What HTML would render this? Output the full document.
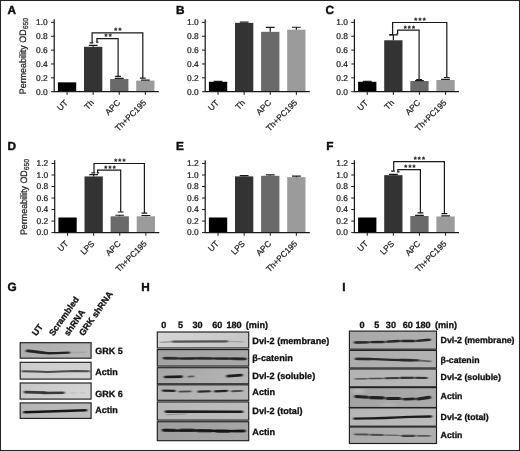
<!DOCTYPE html>
<html lang="en"><head><meta charset="utf-8"><title>Figure</title>
<style>html,body{margin:0;padding:0;background:#fff}body{width:520px;height:451px;overflow:hidden}svg{display:block;will-change:transform}text{font-family:"Liberation Sans", Arial, Helvetica, sans-serif}.r text{stroke:#1a1a1a;stroke-width:.22px}.b text{stroke:#111;stroke-width:.3px}</style></head><body>
<svg width="520" height="451" viewBox="0 0 520 451" text-rendering="geometricPrecision">
<defs><filter id="b1" filterUnits="userSpaceOnUse" x="0" y="320" width="520" height="131"><feGaussianBlur stdDeviation="1.1 0.72"/></filter><filter id="b2" filterUnits="userSpaceOnUse" x="0" y="320" width="520" height="131"><feGaussianBlur stdDeviation="2.2 1.2"/></filter></defs>
<rect x="0" y="0" width="520" height="451" fill="#fff"/>
<rect x="0.5" y="0.5" width="519" height="450" fill="none" stroke="#242424" stroke-width="1.05"/>
<text x="7.5" y="14.4" font-size="11.8" font-weight="bold" fill="#0c0c0c" stroke="#0c0c0c" stroke-width=".4">A</text>
<text x="176.0" y="14.4" font-size="11.8" font-weight="bold" fill="#0c0c0c" stroke="#0c0c0c" stroke-width=".4">B</text>
<text x="325.6" y="14.4" font-size="11.8" font-weight="bold" fill="#0c0c0c" stroke="#0c0c0c" stroke-width=".4">C</text>
<text x="7.6" y="149.6" font-size="11.8" font-weight="bold" fill="#0c0c0c" stroke="#0c0c0c" stroke-width=".4">D</text>
<text x="176.0" y="149.6" font-size="11.8" font-weight="bold" fill="#0c0c0c" stroke="#0c0c0c" stroke-width=".4">E</text>
<text x="326.3" y="149.6" font-size="11.8" font-weight="bold" fill="#0c0c0c" stroke="#0c0c0c" stroke-width=".4">F</text>
<text x="7.4" y="291.3" font-size="11.8" font-weight="bold" fill="#0c0c0c" stroke="#0c0c0c" stroke-width=".4">G</text>
<text x="141.2" y="291.3" font-size="11.8" font-weight="bold" fill="#0c0c0c" stroke="#0c0c0c" stroke-width=".4">H</text>
<text x="342.2" y="291.3" font-size="11.8" font-weight="bold" fill="#0c0c0c" stroke="#0c0c0c" stroke-width=".4">I</text>
<g class="r"><rect x="57.90" y="82.34" width="18.3" height="9.36" fill="#000000"/>
<rect x="84.00" y="46.79" width="18.3" height="44.91" fill="#333333"/>
<path d="M93.15 46.79V45.48M88.75 45.48H97.55" stroke="#1a1a1a" stroke-width="1.22" fill="none"/>
<rect x="110.10" y="79.02" width="18.3" height="12.68" fill="#6a6a6a"/>
<path d="M119.25 79.02V78.46M114.85 78.46H123.65" stroke="#1a1a1a" stroke-width="1.22" fill="none"/>
<rect x="136.20" y="80.61" width="18.3" height="11.09" fill="#9b9b9b"/>
<path d="M145.35 80.61V80.20M140.95 80.20H149.75" stroke="#1a1a1a" stroke-width="1.22" fill="none"/>
<path d="M54.2 19.3V91.7H158.8" stroke="#1a1a1a" stroke-width="1.22" fill="none"/>
<path d="M51.00 91.70H54.2" stroke="#1a1a1a" stroke-width="1"/>
<text x="47.90" y="94.55" font-size="8.4" letter-spacing="0.1" text-anchor="end" fill="#1a1a1a">0.0</text>
<path d="M51.00 77.84H54.2" stroke="#1a1a1a" stroke-width="1"/>
<text x="47.90" y="80.69" font-size="8.4" letter-spacing="0.1" text-anchor="end" fill="#1a1a1a">0.2</text>
<path d="M51.00 63.98H54.2" stroke="#1a1a1a" stroke-width="1"/>
<text x="47.90" y="66.83" font-size="8.4" letter-spacing="0.1" text-anchor="end" fill="#1a1a1a">0.4</text>
<path d="M51.00 50.12H54.2" stroke="#1a1a1a" stroke-width="1"/>
<text x="47.90" y="52.97" font-size="8.4" letter-spacing="0.1" text-anchor="end" fill="#1a1a1a">0.6</text>
<path d="M51.00 36.26H54.2" stroke="#1a1a1a" stroke-width="1"/>
<text x="47.90" y="39.11" font-size="8.4" letter-spacing="0.1" text-anchor="end" fill="#1a1a1a">0.8</text>
<path d="M51.00 22.40H54.2" stroke="#1a1a1a" stroke-width="1"/>
<text x="47.90" y="25.25" font-size="8.4" letter-spacing="0.1" text-anchor="end" fill="#1a1a1a">1.0</text>
<path d="M67.05 91.7V94.9" stroke="#1a1a1a" stroke-width="1"/>
<text transform="translate(68.45 103.30) rotate(-45)" font-size="8.35" text-anchor="end" fill="#1a1a1a">UT</text>
<path d="M93.15 91.7V94.9" stroke="#1a1a1a" stroke-width="1"/>
<text transform="translate(94.55 103.30) rotate(-45)" font-size="8.35" text-anchor="end" fill="#1a1a1a">Th</text>
<path d="M119.25 91.7V94.9" stroke="#1a1a1a" stroke-width="1"/>
<text transform="translate(120.65 103.30) rotate(-45)" font-size="8.35" text-anchor="end" fill="#1a1a1a">APC</text>
<path d="M145.35 91.7V94.9" stroke="#1a1a1a" stroke-width="1"/>
<text transform="translate(146.75 103.30) rotate(-45)" font-size="8.35" text-anchor="end" fill="#1a1a1a">Th+PC195</text>
<text transform="translate(26.10 94.20) rotate(-90) scale(0.95 1)" font-size="9.4" fill="#1a1a1a">Permeability OD<tspan font-size="7.2" dy="2.3">650</tspan></text>
<path d="M89.5 42.9H93.3M92.1 43.4V32.8H142.8V78.1M139.9 78.1H145.70000000000002" stroke="#1a1a1a" stroke-width="1.22" fill="none"/>
<text x="118.40" y="32.83" font-size="7.6" letter-spacing="1.2" font-weight="bold" text-anchor="middle" fill="#1a1a1a">**</text>
<path d="M96.10000000000001 42.2H98.5M96.9 42.7V38.6H118.1V76.3M115.19999999999999 76.3H121.0" stroke="#1a1a1a" stroke-width="1.22" fill="none"/>
<text x="108.70" y="39.33" font-size="7.6" letter-spacing="1.2" font-weight="bold" text-anchor="middle" fill="#1a1a1a">**</text></g>
<g class="r"><rect x="208.90" y="81.79" width="18.3" height="9.91" fill="#000000"/>
<path d="M218.05 81.79V81.37M213.65 81.37H222.45" stroke="#1a1a1a" stroke-width="1.22" fill="none"/>
<rect x="235.00" y="22.85" width="18.3" height="68.85" fill="#333333"/>
<path d="M244.15 22.85V22.23M239.75 22.23H248.55" stroke="#1a1a1a" stroke-width="1.22" fill="none"/>
<rect x="261.10" y="31.82" width="18.3" height="59.88" fill="#6a6a6a"/>
<path d="M270.25 31.82V27.32M265.85 27.32H274.65" stroke="#1a1a1a" stroke-width="1.22" fill="none"/>
<rect x="287.20" y="29.68" width="18.3" height="62.02" fill="#9b9b9b"/>
<path d="M296.35 29.68V27.25M291.95 27.25H300.75" stroke="#1a1a1a" stroke-width="1.22" fill="none"/>
<path d="M205.2 19.3V91.7H309.79999999999995" stroke="#1a1a1a" stroke-width="1.22" fill="none"/>
<path d="M202.00 91.70H205.2" stroke="#1a1a1a" stroke-width="1"/>
<text x="198.90" y="94.55" font-size="8.4" letter-spacing="0.1" text-anchor="end" fill="#1a1a1a">0.0</text>
<path d="M202.00 77.84H205.2" stroke="#1a1a1a" stroke-width="1"/>
<text x="198.90" y="80.69" font-size="8.4" letter-spacing="0.1" text-anchor="end" fill="#1a1a1a">0.2</text>
<path d="M202.00 63.98H205.2" stroke="#1a1a1a" stroke-width="1"/>
<text x="198.90" y="66.83" font-size="8.4" letter-spacing="0.1" text-anchor="end" fill="#1a1a1a">0.4</text>
<path d="M202.00 50.12H205.2" stroke="#1a1a1a" stroke-width="1"/>
<text x="198.90" y="52.97" font-size="8.4" letter-spacing="0.1" text-anchor="end" fill="#1a1a1a">0.6</text>
<path d="M202.00 36.26H205.2" stroke="#1a1a1a" stroke-width="1"/>
<text x="198.90" y="39.11" font-size="8.4" letter-spacing="0.1" text-anchor="end" fill="#1a1a1a">0.8</text>
<path d="M202.00 22.40H205.2" stroke="#1a1a1a" stroke-width="1"/>
<text x="198.90" y="25.25" font-size="8.4" letter-spacing="0.1" text-anchor="end" fill="#1a1a1a">1.0</text>
<path d="M218.05 91.7V94.9" stroke="#1a1a1a" stroke-width="1"/>
<text transform="translate(219.45 103.30) rotate(-45)" font-size="8.35" text-anchor="end" fill="#1a1a1a">UT</text>
<path d="M244.15 91.7V94.9" stroke="#1a1a1a" stroke-width="1"/>
<text transform="translate(245.55 103.30) rotate(-45)" font-size="8.35" text-anchor="end" fill="#1a1a1a">Th</text>
<path d="M270.25 91.7V94.9" stroke="#1a1a1a" stroke-width="1"/>
<text transform="translate(271.65 103.30) rotate(-45)" font-size="8.35" text-anchor="end" fill="#1a1a1a">APC</text>
<path d="M296.35 91.7V94.9" stroke="#1a1a1a" stroke-width="1"/>
<text transform="translate(297.75 103.30) rotate(-45)" font-size="8.35" text-anchor="end" fill="#1a1a1a">Th+PC195</text></g>
<g class="r"><rect x="358.10" y="81.79" width="18.3" height="9.91" fill="#000000"/>
<path d="M367.25 81.79V81.37M362.85 81.37H371.65" stroke="#1a1a1a" stroke-width="1.22" fill="none"/>
<rect x="384.20" y="40.28" width="18.3" height="51.42" fill="#333333"/>
<path d="M393.35 40.28V34.80M388.95 34.80H397.75" stroke="#1a1a1a" stroke-width="1.22" fill="none"/>
<rect x="410.30" y="81.03" width="18.3" height="10.67" fill="#6a6a6a"/>
<path d="M419.45 81.03V80.61M415.05 80.61H423.85" stroke="#1a1a1a" stroke-width="1.22" fill="none"/>
<rect x="436.40" y="79.99" width="18.3" height="11.71" fill="#9b9b9b"/>
<path d="M445.55 79.99V79.43M441.15 79.43H449.95" stroke="#1a1a1a" stroke-width="1.22" fill="none"/>
<path d="M354.4 19.3V91.7H459.0" stroke="#1a1a1a" stroke-width="1.22" fill="none"/>
<path d="M351.20 91.70H354.4" stroke="#1a1a1a" stroke-width="1"/>
<text x="348.10" y="94.55" font-size="8.4" letter-spacing="0.1" text-anchor="end" fill="#1a1a1a">0.0</text>
<path d="M351.20 77.84H354.4" stroke="#1a1a1a" stroke-width="1"/>
<text x="348.10" y="80.69" font-size="8.4" letter-spacing="0.1" text-anchor="end" fill="#1a1a1a">0.2</text>
<path d="M351.20 63.98H354.4" stroke="#1a1a1a" stroke-width="1"/>
<text x="348.10" y="66.83" font-size="8.4" letter-spacing="0.1" text-anchor="end" fill="#1a1a1a">0.4</text>
<path d="M351.20 50.12H354.4" stroke="#1a1a1a" stroke-width="1"/>
<text x="348.10" y="52.97" font-size="8.4" letter-spacing="0.1" text-anchor="end" fill="#1a1a1a">0.6</text>
<path d="M351.20 36.26H354.4" stroke="#1a1a1a" stroke-width="1"/>
<text x="348.10" y="39.11" font-size="8.4" letter-spacing="0.1" text-anchor="end" fill="#1a1a1a">0.8</text>
<path d="M351.20 22.40H354.4" stroke="#1a1a1a" stroke-width="1"/>
<text x="348.10" y="25.25" font-size="8.4" letter-spacing="0.1" text-anchor="end" fill="#1a1a1a">1.0</text>
<path d="M367.25 91.7V94.9" stroke="#1a1a1a" stroke-width="1"/>
<text transform="translate(368.65 103.30) rotate(-45)" font-size="8.35" text-anchor="end" fill="#1a1a1a">UT</text>
<path d="M393.35 91.7V94.9" stroke="#1a1a1a" stroke-width="1"/>
<text transform="translate(394.75 103.30) rotate(-45)" font-size="8.35" text-anchor="end" fill="#1a1a1a">Th</text>
<path d="M419.45 91.7V94.9" stroke="#1a1a1a" stroke-width="1"/>
<text transform="translate(420.85 103.30) rotate(-45)" font-size="8.35" text-anchor="end" fill="#1a1a1a">APC</text>
<path d="M445.55 91.7V94.9" stroke="#1a1a1a" stroke-width="1"/>
<text transform="translate(446.95 103.30) rotate(-45)" font-size="8.35" text-anchor="end" fill="#1a1a1a">Th+PC195</text>
<path d="M390.0 34.6H393.8M392.6 35.1V22.5H446.8V77.5M443.90000000000003 77.5H449.7" stroke="#1a1a1a" stroke-width="1.22" fill="none"/>
<text x="420.60" y="23.43" font-size="7.6" letter-spacing="1.2" font-weight="bold" text-anchor="middle" fill="#1a1a1a">***</text>
<path d="M396.40000000000003 33.8H398.20000000000005M397.6 34.3V30.1H419.1V79.7M416.20000000000005 79.7H422.0" stroke="#1a1a1a" stroke-width="1.22" fill="none"/>
<text x="409.90" y="30.53" font-size="7.6" letter-spacing="1.2" font-weight="bold" text-anchor="middle" fill="#1a1a1a">***</text></g>
<g class="r"><rect x="58.40" y="217.51" width="18.3" height="15.09" fill="#000000"/>
<rect x="84.50" y="176.44" width="18.3" height="56.16" fill="#333333"/>
<path d="M93.65 176.44V174.71M89.25 174.71H98.05" stroke="#1a1a1a" stroke-width="1.22" fill="none"/>
<rect x="110.60" y="216.30" width="18.3" height="16.30" fill="#6a6a6a"/>
<path d="M119.75 216.30V215.26M115.35 215.26H124.15" stroke="#1a1a1a" stroke-width="1.22" fill="none"/>
<rect x="136.70" y="216.30" width="18.3" height="16.30" fill="#9b9b9b"/>
<path d="M145.85 216.30V215.49M141.45 215.49H150.25" stroke="#1a1a1a" stroke-width="1.22" fill="none"/>
<path d="M54.7 160.2V232.6H159.3" stroke="#1a1a1a" stroke-width="1.22" fill="none"/>
<path d="M51.50 232.60H54.7" stroke="#1a1a1a" stroke-width="1"/>
<text x="48.40" y="235.45" font-size="8.4" letter-spacing="0.1" text-anchor="end" fill="#1a1a1a">0.0</text>
<path d="M51.50 221.08H54.7" stroke="#1a1a1a" stroke-width="1"/>
<text x="48.40" y="223.93" font-size="8.4" letter-spacing="0.1" text-anchor="end" fill="#1a1a1a">0.2</text>
<path d="M51.50 209.56H54.7" stroke="#1a1a1a" stroke-width="1"/>
<text x="48.40" y="212.41" font-size="8.4" letter-spacing="0.1" text-anchor="end" fill="#1a1a1a">0.4</text>
<path d="M51.50 198.04H54.7" stroke="#1a1a1a" stroke-width="1"/>
<text x="48.40" y="200.89" font-size="8.4" letter-spacing="0.1" text-anchor="end" fill="#1a1a1a">0.6</text>
<path d="M51.50 186.52H54.7" stroke="#1a1a1a" stroke-width="1"/>
<text x="48.40" y="189.37" font-size="8.4" letter-spacing="0.1" text-anchor="end" fill="#1a1a1a">0.8</text>
<path d="M51.50 175.00H54.7" stroke="#1a1a1a" stroke-width="1"/>
<text x="48.40" y="177.85" font-size="8.4" letter-spacing="0.1" text-anchor="end" fill="#1a1a1a">1.0</text>
<path d="M51.50 163.48H54.7" stroke="#1a1a1a" stroke-width="1"/>
<text x="48.40" y="166.33" font-size="8.4" letter-spacing="0.1" text-anchor="end" fill="#1a1a1a">1.2</text>
<path d="M67.55 232.6V235.79999999999998" stroke="#1a1a1a" stroke-width="1"/>
<text transform="translate(68.95 244.20) rotate(-45)" font-size="8.35" text-anchor="end" fill="#1a1a1a">UT</text>
<path d="M93.65 232.6V235.79999999999998" stroke="#1a1a1a" stroke-width="1"/>
<text transform="translate(95.05 244.20) rotate(-45)" font-size="8.35" text-anchor="end" fill="#1a1a1a">LPS</text>
<path d="M119.75 232.6V235.79999999999998" stroke="#1a1a1a" stroke-width="1"/>
<text transform="translate(121.15 244.20) rotate(-45)" font-size="8.35" text-anchor="end" fill="#1a1a1a">APC</text>
<path d="M145.85 232.6V235.79999999999998" stroke="#1a1a1a" stroke-width="1"/>
<text transform="translate(147.25 244.20) rotate(-45)" font-size="8.35" text-anchor="end" fill="#1a1a1a">Th+PC195</text>
<text transform="translate(26.60 235.10) rotate(-90) scale(0.95 1)" font-size="9.4" fill="#1a1a1a">Permeability OD<tspan font-size="7.2" dy="2.3">650</tspan></text>
<path d="M91.4 172.9H95.2M94.0 173.4V163.5H144.4V213.2M141.5 213.2H147.3" stroke="#1a1a1a" stroke-width="1.22" fill="none"/>
<text x="120.40" y="164.33" font-size="7.6" letter-spacing="1.2" font-weight="bold" text-anchor="middle" fill="#1a1a1a">***</text>
<path d="M96.8 172.9H99.19999999999999M97.6 173.4V170.1H120.7V212.0M117.8 212.0H123.60000000000001" stroke="#1a1a1a" stroke-width="1.22" fill="none"/>
<text x="110.60" y="170.93" font-size="7.6" letter-spacing="1.2" font-weight="bold" text-anchor="middle" fill="#1a1a1a">***</text></g>
<g class="r"><rect x="208.90" y="217.51" width="18.3" height="15.09" fill="#000000"/>
<rect x="235.00" y="176.38" width="18.3" height="56.22" fill="#333333"/>
<path d="M244.15 176.38V175.58M239.75 175.58H248.55" stroke="#1a1a1a" stroke-width="1.22" fill="none"/>
<rect x="261.10" y="175.81" width="18.3" height="56.79" fill="#6a6a6a"/>
<path d="M270.25 175.81V174.83M265.85 174.83H274.65" stroke="#1a1a1a" stroke-width="1.22" fill="none"/>
<rect x="287.20" y="177.13" width="18.3" height="55.47" fill="#9b9b9b"/>
<path d="M296.35 177.13V176.04M291.95 176.04H300.75" stroke="#1a1a1a" stroke-width="1.22" fill="none"/>
<path d="M205.2 160.2V232.6H309.79999999999995" stroke="#1a1a1a" stroke-width="1.22" fill="none"/>
<path d="M202.00 232.60H205.2" stroke="#1a1a1a" stroke-width="1"/>
<text x="198.90" y="235.45" font-size="8.4" letter-spacing="0.1" text-anchor="end" fill="#1a1a1a">0.0</text>
<path d="M202.00 221.08H205.2" stroke="#1a1a1a" stroke-width="1"/>
<text x="198.90" y="223.93" font-size="8.4" letter-spacing="0.1" text-anchor="end" fill="#1a1a1a">0.2</text>
<path d="M202.00 209.56H205.2" stroke="#1a1a1a" stroke-width="1"/>
<text x="198.90" y="212.41" font-size="8.4" letter-spacing="0.1" text-anchor="end" fill="#1a1a1a">0.4</text>
<path d="M202.00 198.04H205.2" stroke="#1a1a1a" stroke-width="1"/>
<text x="198.90" y="200.89" font-size="8.4" letter-spacing="0.1" text-anchor="end" fill="#1a1a1a">0.6</text>
<path d="M202.00 186.52H205.2" stroke="#1a1a1a" stroke-width="1"/>
<text x="198.90" y="189.37" font-size="8.4" letter-spacing="0.1" text-anchor="end" fill="#1a1a1a">0.8</text>
<path d="M202.00 175.00H205.2" stroke="#1a1a1a" stroke-width="1"/>
<text x="198.90" y="177.85" font-size="8.4" letter-spacing="0.1" text-anchor="end" fill="#1a1a1a">1.0</text>
<path d="M202.00 163.48H205.2" stroke="#1a1a1a" stroke-width="1"/>
<text x="198.90" y="166.33" font-size="8.4" letter-spacing="0.1" text-anchor="end" fill="#1a1a1a">1.2</text>
<path d="M218.05 232.6V235.79999999999998" stroke="#1a1a1a" stroke-width="1"/>
<text transform="translate(219.45 244.20) rotate(-45)" font-size="8.35" text-anchor="end" fill="#1a1a1a">UT</text>
<path d="M244.15 232.6V235.79999999999998" stroke="#1a1a1a" stroke-width="1"/>
<text transform="translate(245.55 244.20) rotate(-45)" font-size="8.35" text-anchor="end" fill="#1a1a1a">LPS</text>
<path d="M270.25 232.6V235.79999999999998" stroke="#1a1a1a" stroke-width="1"/>
<text transform="translate(271.65 244.20) rotate(-45)" font-size="8.35" text-anchor="end" fill="#1a1a1a">APC</text>
<path d="M296.35 232.6V235.79999999999998" stroke="#1a1a1a" stroke-width="1"/>
<text transform="translate(297.75 244.20) rotate(-45)" font-size="8.35" text-anchor="end" fill="#1a1a1a">Th+PC195</text></g>
<g class="r"><rect x="358.10" y="217.51" width="18.3" height="15.09" fill="#000000"/>
<rect x="384.20" y="175.17" width="18.3" height="57.43" fill="#333333"/>
<path d="M393.35 175.17V174.48M388.95 174.48H397.75" stroke="#1a1a1a" stroke-width="1.22" fill="none"/>
<rect x="410.30" y="216.01" width="18.3" height="16.59" fill="#6a6a6a"/>
<path d="M419.45 216.01V215.32M415.05 215.32H423.85" stroke="#1a1a1a" stroke-width="1.22" fill="none"/>
<rect x="436.40" y="216.47" width="18.3" height="16.13" fill="#9b9b9b"/>
<path d="M445.55 216.47V215.90M441.15 215.90H449.95" stroke="#1a1a1a" stroke-width="1.22" fill="none"/>
<path d="M354.4 160.2V232.6H459.0" stroke="#1a1a1a" stroke-width="1.22" fill="none"/>
<path d="M351.20 232.60H354.4" stroke="#1a1a1a" stroke-width="1"/>
<text x="348.10" y="235.45" font-size="8.4" letter-spacing="0.1" text-anchor="end" fill="#1a1a1a">0.0</text>
<path d="M351.20 221.08H354.4" stroke="#1a1a1a" stroke-width="1"/>
<text x="348.10" y="223.93" font-size="8.4" letter-spacing="0.1" text-anchor="end" fill="#1a1a1a">0.2</text>
<path d="M351.20 209.56H354.4" stroke="#1a1a1a" stroke-width="1"/>
<text x="348.10" y="212.41" font-size="8.4" letter-spacing="0.1" text-anchor="end" fill="#1a1a1a">0.4</text>
<path d="M351.20 198.04H354.4" stroke="#1a1a1a" stroke-width="1"/>
<text x="348.10" y="200.89" font-size="8.4" letter-spacing="0.1" text-anchor="end" fill="#1a1a1a">0.6</text>
<path d="M351.20 186.52H354.4" stroke="#1a1a1a" stroke-width="1"/>
<text x="348.10" y="189.37" font-size="8.4" letter-spacing="0.1" text-anchor="end" fill="#1a1a1a">0.8</text>
<path d="M351.20 175.00H354.4" stroke="#1a1a1a" stroke-width="1"/>
<text x="348.10" y="177.85" font-size="8.4" letter-spacing="0.1" text-anchor="end" fill="#1a1a1a">1.0</text>
<path d="M351.20 163.48H354.4" stroke="#1a1a1a" stroke-width="1"/>
<text x="348.10" y="166.33" font-size="8.4" letter-spacing="0.1" text-anchor="end" fill="#1a1a1a">1.2</text>
<path d="M367.25 232.6V235.79999999999998" stroke="#1a1a1a" stroke-width="1"/>
<text transform="translate(368.65 244.20) rotate(-45)" font-size="8.35" text-anchor="end" fill="#1a1a1a">UT</text>
<path d="M393.35 232.6V235.79999999999998" stroke="#1a1a1a" stroke-width="1"/>
<text transform="translate(394.75 244.20) rotate(-45)" font-size="8.35" text-anchor="end" fill="#1a1a1a">LPS</text>
<path d="M419.45 232.6V235.79999999999998" stroke="#1a1a1a" stroke-width="1"/>
<text transform="translate(420.85 244.20) rotate(-45)" font-size="8.35" text-anchor="end" fill="#1a1a1a">APC</text>
<path d="M445.55 232.6V235.79999999999998" stroke="#1a1a1a" stroke-width="1"/>
<text transform="translate(446.95 244.20) rotate(-45)" font-size="8.35" text-anchor="end" fill="#1a1a1a">Th+PC195</text>
<path d="M391.09999999999997 171.2H394.9M393.7 171.7V161.6H444.4V213.7M441.5 213.7H447.29999999999995" stroke="#1a1a1a" stroke-width="1.22" fill="none"/>
<text x="419.90" y="162.43" font-size="7.6" letter-spacing="1.2" font-weight="bold" text-anchor="middle" fill="#1a1a1a">***</text>
<path d="M397.09999999999997 171.9H399.5M397.9 172.4V169.7H420.4V212.9M417.5 212.9H423.29999999999995" stroke="#1a1a1a" stroke-width="1.22" fill="none"/>
<text x="410.50" y="170.23" font-size="7.6" letter-spacing="1.2" font-weight="bold" text-anchor="middle" fill="#1a1a1a">***</text></g>
<g class="b">
<linearGradient id="g1" x1="0" y1="0" x2="1" y2="0.25"><stop offset="0" stop-color="#adadad"/><stop offset="1" stop-color="#b6b6b6"/></linearGradient>
<rect x="20.20" y="342.70" width="70.90" height="15.50" fill="url(#g1)"/>
<clipPath id="c1"><rect x="20.20" y="342.70" width="70.90" height="15.50"/></clipPath><g clip-path="url(#c1)">
<path d="M27.5 350.90L34.0 351.60L42.0 352.60L48.0 353.20L56.0 353.10L69.0 352.60" stroke="#242424" stroke-width="2.4" stroke-linecap="round" stroke-linejoin="round" opacity="1" fill="none" filter="url(#b1)"/>
<path d="M27.5 350.80L36.0 351.80L44.0 352.80" stroke="#242424" stroke-width="3.0" stroke-linecap="round" stroke-linejoin="round" opacity="0.7" fill="none" filter="url(#b1)"/>
<path d="M72.0 352.60L86.0 352.20" stroke="#777" stroke-width="1.6" stroke-linecap="round" stroke-linejoin="round" opacity="0.28" fill="none" filter="url(#b1)"/>
</g>
<rect x="20.20" y="342.70" width="70.90" height="15.50" fill="none" stroke="#1e1e1e" stroke-width="1.15"/>
<text x="95.3" y="354.05" font-size="9.0" font-weight="bold" fill="#111">GRK 5</text>
<linearGradient id="g2" x1="0" y1="0" x2="1" y2="0.25"><stop offset="0" stop-color="#cdcdcd"/><stop offset="1" stop-color="#d2d2d2"/></linearGradient>
<rect x="20.20" y="362.30" width="70.90" height="16.80" fill="url(#g2)"/>
<clipPath id="c2"><rect x="20.20" y="362.30" width="70.90" height="16.80"/></clipPath><g clip-path="url(#c2)">
<path d="M22.5 371.30L35.0 371.60L48.0 372.00L60.0 371.60L75.0 371.00L89.0 371.20" stroke="#454545" stroke-width="2.0" stroke-linecap="round" stroke-linejoin="round" opacity="0.95" fill="none" filter="url(#b1)"/>
</g>
<rect x="20.20" y="362.30" width="70.90" height="16.80" fill="none" stroke="#1e1e1e" stroke-width="1.15"/>
<text x="95.3" y="374.60" font-size="9.0" font-weight="bold" fill="#111">Actin</text>
<linearGradient id="g3" x1="0" y1="0" x2="1" y2="0.25"><stop offset="0" stop-color="#c6c6c6"/><stop offset="1" stop-color="#d3d3d3"/></linearGradient>
<rect x="20.20" y="383.00" width="70.90" height="16.10" fill="url(#g3)"/>
<clipPath id="c3"><rect x="20.20" y="383.00" width="70.90" height="16.10"/></clipPath><g clip-path="url(#c3)">
<path d="M25.0 392.10L45.0 392.60" stroke="#333" stroke-width="2.6" stroke-linecap="round" stroke-linejoin="round" opacity="0.95" fill="none" filter="url(#b1)"/>
<path d="M43.0 393.00L63.5 392.80" stroke="#333" stroke-width="2.5" stroke-linecap="round" stroke-linejoin="round" opacity="0.95" fill="none" filter="url(#b1)"/>
<path d="M70.0 393.00L76.0 393.00" stroke="#888" stroke-width="1.2" stroke-linecap="round" stroke-linejoin="round" opacity="0.3" fill="none" filter="url(#b1)"/>
<path d="M80.0 392.80L85.0 392.80" stroke="#888" stroke-width="1.2" stroke-linecap="round" stroke-linejoin="round" opacity="0.22" fill="none" filter="url(#b1)"/>
</g>
<rect x="20.20" y="383.00" width="70.90" height="16.10" fill="none" stroke="#1e1e1e" stroke-width="1.15"/>
<text x="95.3" y="396.85" font-size="9.0" font-weight="bold" fill="#111">GRK 6</text>
<linearGradient id="g4" x1="0" y1="0" x2="1" y2="0.25"><stop offset="0" stop-color="#b5b5b5"/><stop offset="1" stop-color="#bbbbbb"/></linearGradient>
<rect x="20.20" y="402.90" width="70.90" height="15.50" fill="url(#g4)"/>
<clipPath id="c4"><rect x="20.20" y="402.90" width="70.90" height="15.50"/></clipPath><g clip-path="url(#c4)">
<path d="M24.5 412.30L86.0 410.20" stroke="#181818" stroke-width="2.6" stroke-linecap="round" stroke-linejoin="round" opacity="1" fill="none" filter="url(#b1)"/>
</g>
<rect x="20.20" y="402.90" width="70.90" height="15.50" fill="none" stroke="#1e1e1e" stroke-width="1.15"/>
<text x="95.3" y="413.45" font-size="9.0" font-weight="bold" fill="#111">Actin</text>
<text transform="translate(36.6 336.5) rotate(-55)" font-size="8.9" font-weight="bold" fill="#111">UT</text>
<text transform="translate(53.4 336.5) rotate(-55)" font-size="8.9" font-weight="bold" fill="#111">Scrambled</text>
<text transform="translate(68.5 336.5) rotate(-55)" font-size="8.9" font-weight="bold" fill="#111">shRNA</text>
<text transform="translate(83.4 336.5) rotate(-55)" font-size="8.9" font-weight="bold" fill="#111">GRK shRNA</text>
<text x="163.8" y="328.4" font-size="9.1" font-weight="bold" text-anchor="middle" fill="#111">0</text>
<text x="180.6" y="328.4" font-size="9.1" font-weight="bold" text-anchor="middle" fill="#111">5</text>
<text x="197.6" y="328.4" font-size="9.1" font-weight="bold" text-anchor="middle" fill="#111">30</text>
<text x="217.2" y="328.4" font-size="9.1" font-weight="bold" text-anchor="middle" fill="#111">60</text>
<text x="234.0" y="328.4" font-size="9.1" font-weight="bold" text-anchor="middle" fill="#111">180</text>
<text x="256.9" y="328.4" font-size="9.1" font-weight="bold" text-anchor="middle" fill="#111">(min)</text>
<linearGradient id="g5" x1="0" y1="0" x2="1" y2="0.25"><stop offset="0" stop-color="#d6d6d6"/><stop offset="1" stop-color="#c6c6c6"/></linearGradient>
<rect x="157.30" y="332.00" width="91.40" height="16.00" fill="url(#g5)"/>
<clipPath id="c5"><rect x="157.30" y="332.00" width="91.40" height="16.00"/></clipPath><g clip-path="url(#c5)">
<path d="M173.0 341.60L227.0 341.30" stroke="#3c3c3c" stroke-width="2.3" stroke-linecap="round" stroke-linejoin="round" opacity="0.85" fill="none" filter="url(#b1)"/>
<path d="M160.5 342.40L174.0 341.70" stroke="#606060" stroke-width="1.3" stroke-linecap="round" stroke-linejoin="round" opacity="0.55" fill="none" filter="url(#b1)"/>
<path d="M226.0 341.40L243.0 341.80" stroke="#707070" stroke-width="1.3" stroke-linecap="round" stroke-linejoin="round" opacity="0.45" fill="none" filter="url(#b1)"/>
</g>
<rect x="157.30" y="332.00" width="91.40" height="16.00" fill="none" stroke="#1e1e1e" stroke-width="1.15"/>
<text x="252.3" y="343.80" font-size="9.15" font-weight="bold" fill="#111">Dvl-2 (membrane)</text>
<linearGradient id="g6" x1="0" y1="0" x2="1" y2="0.25"><stop offset="0" stop-color="#a2a2a2"/><stop offset="1" stop-color="#a8a8a8"/></linearGradient>
<rect x="157.30" y="349.60" width="91.40" height="16.50" fill="url(#g6)"/>
<clipPath id="c6"><rect x="157.30" y="349.60" width="91.40" height="16.50"/></clipPath><g clip-path="url(#c6)">
<path d="M164.0 358.10L180.0 358.50L196.0 358.20L213.0 358.50L230.0 358.60L245.5 358.90" stroke="#262626" stroke-width="2.1" stroke-linecap="round" stroke-linejoin="round" opacity="1" fill="none" filter="url(#b1)"/>
<path d="M165.0 358.20L176.0 358.30" stroke="#262626" stroke-width="2.9" stroke-linecap="round" stroke-linejoin="round" opacity="0.55" fill="none" filter="url(#b1)"/>
<path d="M182.0 358.60L193.0 358.60" stroke="#262626" stroke-width="2.8" stroke-linecap="round" stroke-linejoin="round" opacity="0.5" fill="none" filter="url(#b1)"/>
<path d="M199.0 358.20L211.0 358.30" stroke="#262626" stroke-width="2.8" stroke-linecap="round" stroke-linejoin="round" opacity="0.5" fill="none" filter="url(#b1)"/>
<path d="M216.5 358.60L227.0 358.60" stroke="#262626" stroke-width="2.8" stroke-linecap="round" stroke-linejoin="round" opacity="0.5" fill="none" filter="url(#b1)"/>
<path d="M233.0 358.80L244.5 359.00" stroke="#262626" stroke-width="3.0" stroke-linecap="round" stroke-linejoin="round" opacity="0.6" fill="none" filter="url(#b1)"/>
</g>
<rect x="157.30" y="349.60" width="91.40" height="16.50" fill="none" stroke="#1e1e1e" stroke-width="1.15"/>
<text x="252.3" y="361.35" font-size="9.15" font-weight="bold" fill="#111">&#946;-catenin</text>
<linearGradient id="g7" x1="0" y1="0" x2="1" y2="0.25"><stop offset="0" stop-color="#a6a6a6"/><stop offset="1" stop-color="#b4b4b4"/></linearGradient>
<rect x="157.30" y="367.70" width="91.40" height="16.10" fill="url(#g7)"/>
<clipPath id="c7"><rect x="157.30" y="367.70" width="91.40" height="16.10"/></clipPath><g clip-path="url(#c7)">
<path d="M165.2 377.00L181.5 376.70" stroke="#1e1e1e" stroke-width="2.7" stroke-linecap="round" stroke-linejoin="round" opacity="1" fill="none" filter="url(#b1)"/>
<path d="M188.5 376.60L193.5 376.40" stroke="#3a3a3a" stroke-width="1.9" stroke-linecap="round" stroke-linejoin="round" opacity="0.75" fill="none" filter="url(#b1)"/>
<path d="M227.5 376.10L241.5 375.10" stroke="#1e1e1e" stroke-width="2.6" stroke-linecap="round" stroke-linejoin="round" opacity="1" fill="none" filter="url(#b1)"/>
</g>
<rect x="157.30" y="367.70" width="91.40" height="16.10" fill="none" stroke="#1e1e1e" stroke-width="1.15"/>
<text x="252.3" y="378.75" font-size="9.15" font-weight="bold" fill="#111">Dvl-2 (soluble)</text>
<linearGradient id="g8" x1="0" y1="0" x2="1" y2="0.25"><stop offset="0" stop-color="#b0b0b0"/><stop offset="1" stop-color="#b6b6b6"/></linearGradient>
<rect x="157.30" y="384.80" width="91.40" height="15.50" fill="url(#g8)"/>
<clipPath id="c8"><rect x="157.30" y="384.80" width="91.40" height="15.50"/></clipPath><g clip-path="url(#c8)">
<path d="M163.0 390.60L174.5 390.90" stroke="#222" stroke-width="2.2" stroke-linecap="round" stroke-linejoin="round" opacity="1" fill="none" filter="url(#b1)"/>
<path d="M179.5 391.60L190.5 391.40" stroke="#333" stroke-width="1.9" stroke-linecap="round" stroke-linejoin="round" opacity="0.85" fill="none" filter="url(#b1)"/>
<path d="M198.5 391.60L210.0 391.20" stroke="#222" stroke-width="2.1" stroke-linecap="round" stroke-linejoin="round" opacity="0.95" fill="none" filter="url(#b1)"/>
<path d="M215.0 391.30L227.0 390.80" stroke="#222" stroke-width="2.2" stroke-linecap="round" stroke-linejoin="round" opacity="1" fill="none" filter="url(#b1)"/>
<path d="M232.0 391.20L242.0 390.90" stroke="#333" stroke-width="1.9" stroke-linecap="round" stroke-linejoin="round" opacity="0.85" fill="none" filter="url(#b1)"/>
</g>
<rect x="157.30" y="384.80" width="91.40" height="15.50" fill="none" stroke="#1e1e1e" stroke-width="1.15"/>
<text x="252.3" y="395.05" font-size="9.15" font-weight="bold" fill="#111">Actin</text>
<linearGradient id="g9" x1="0" y1="0" x2="1" y2="0.25"><stop offset="0" stop-color="#b6b6b6"/><stop offset="1" stop-color="#bcbcbc"/></linearGradient>
<rect x="157.30" y="401.90" width="91.40" height="18.20" fill="url(#g9)"/>
<clipPath id="c9"><rect x="157.30" y="401.90" width="91.40" height="18.20"/></clipPath><g clip-path="url(#c9)">
<path d="M166.0 411.60L242.0 411.80" stroke="#1e1e1e" stroke-width="2.6" stroke-linecap="round" stroke-linejoin="round" opacity="1" fill="none" filter="url(#b1)"/>
<path d="M167.0 414.60L186.0 414.00" stroke="#666" stroke-width="1.2" stroke-linecap="round" stroke-linejoin="round" opacity="0.45" fill="none" filter="url(#b1)"/>
</g>
<rect x="157.30" y="401.90" width="91.40" height="18.20" fill="none" stroke="#1e1e1e" stroke-width="1.15"/>
<text x="252.3" y="414.00" font-size="9.15" font-weight="bold" fill="#111">Dvl-2 (total)</text>
<linearGradient id="g10" x1="0" y1="0" x2="1" y2="0.25"><stop offset="0" stop-color="#9e9e9e"/><stop offset="1" stop-color="#a6a6a6"/></linearGradient>
<rect x="157.30" y="421.70" width="91.40" height="19.00" fill="url(#g10)"/>
<clipPath id="c10"><rect x="157.30" y="421.70" width="91.40" height="19.00"/></clipPath><g clip-path="url(#c10)">
<path d="M163.5 430.20L178.0 430.60L195.0 430.40L212.0 430.90L228.0 431.20L244.5 431.00" stroke="#181818" stroke-width="2.3" stroke-linecap="round" stroke-linejoin="round" opacity="1" fill="none" filter="url(#b1)"/>
<path d="M164.0 430.20L175.0 430.40" stroke="#181818" stroke-width="3.4" stroke-linecap="round" stroke-linejoin="round" opacity="0.65" fill="none" filter="url(#b1)"/>
<path d="M180.5 430.30L193.0 430.30" stroke="#181818" stroke-width="3.4" stroke-linecap="round" stroke-linejoin="round" opacity="0.65" fill="none" filter="url(#b1)"/>
<path d="M198.5 430.70L211.5 430.80" stroke="#181818" stroke-width="3.4" stroke-linecap="round" stroke-linejoin="round" opacity="0.65" fill="none" filter="url(#b1)"/>
<path d="M216.5 431.10L229.0 431.20" stroke="#181818" stroke-width="3.6" stroke-linecap="round" stroke-linejoin="round" opacity="0.65" fill="none" filter="url(#b1)"/>
<path d="M233.0 431.20L243.5 431.00" stroke="#181818" stroke-width="2.8" stroke-linecap="round" stroke-linejoin="round" opacity="0.55" fill="none" filter="url(#b1)"/>
</g>
<rect x="157.30" y="421.70" width="91.40" height="19.00" fill="none" stroke="#1e1e1e" stroke-width="1.15"/>
<text x="252.3" y="434.70" font-size="9.15" font-weight="bold" fill="#111">Actin</text>
<text x="362.0" y="328.4" font-size="9.1" font-weight="bold" text-anchor="middle" fill="#111">0</text>
<text x="376.8" y="328.4" font-size="9.1" font-weight="bold" text-anchor="middle" fill="#111">5</text>
<text x="390.9" y="328.4" font-size="9.1" font-weight="bold" text-anchor="middle" fill="#111">30</text>
<text x="407.7" y="328.4" font-size="9.1" font-weight="bold" text-anchor="middle" fill="#111">60</text>
<text x="423.0" y="328.4" font-size="9.1" font-weight="bold" text-anchor="middle" fill="#111">180</text>
<text x="446.0" y="328.4" font-size="9.1" font-weight="bold" text-anchor="middle" fill="#111">(min)</text>
<linearGradient id="g11" x1="0" y1="0" x2="1" y2="0.25"><stop offset="0" stop-color="#a7a7a7"/><stop offset="1" stop-color="#b0b0b0"/></linearGradient>
<rect x="349.40" y="331.10" width="87.10" height="18.10" fill="url(#g11)"/>
<clipPath id="c11"><rect x="349.40" y="331.10" width="87.10" height="18.10"/></clipPath><g clip-path="url(#c11)">
<path d="M355.2 342.50L368.2 342.30" stroke="#1e1e1e" stroke-width="2.3" stroke-linecap="round" stroke-linejoin="round" opacity="1" fill="none" filter="url(#b1)"/>
<path d="M371.2 342.20L383.6 342.00" stroke="#1e1e1e" stroke-width="2.3" stroke-linecap="round" stroke-linejoin="round" opacity="1" fill="none" filter="url(#b1)"/>
<path d="M387.3 341.60L399.2 341.00" stroke="#1e1e1e" stroke-width="2.3" stroke-linecap="round" stroke-linejoin="round" opacity="1" fill="none" filter="url(#b1)"/>
<path d="M402.2 340.90L414.0 340.90" stroke="#1e1e1e" stroke-width="2.5" stroke-linecap="round" stroke-linejoin="round" opacity="1" fill="none" filter="url(#b1)"/>
<path d="M417.0 340.90L429.6 339.80" stroke="#1e1e1e" stroke-width="2.4" stroke-linecap="round" stroke-linejoin="round" opacity="1" fill="none" filter="url(#b1)"/>
<path d="M356.0 342.50L385.0 342.00L400.0 341.00L415.0 340.90L429.0 339.90" stroke="#333" stroke-width="1.4" stroke-linecap="round" stroke-linejoin="round" opacity="0.6" fill="none" filter="url(#b1)"/>
</g>
<rect x="349.40" y="331.10" width="87.10" height="18.10" fill="none" stroke="#1e1e1e" stroke-width="1.15"/>
<text x="440.6" y="342.65" font-size="8.75" font-weight="bold" fill="#111">Dvl-2 (membrane)</text>
<linearGradient id="g12" x1="0" y1="0" x2="1" y2="0.25"><stop offset="0" stop-color="#ababab"/><stop offset="1" stop-color="#b2b2b2"/></linearGradient>
<rect x="349.40" y="350.40" width="87.10" height="17.60" fill="url(#g12)"/>
<clipPath id="c12"><rect x="349.40" y="350.40" width="87.10" height="17.60"/></clipPath><g clip-path="url(#c12)">
<path d="M356.0 358.90L375.0 359.20L392.0 359.80L405.0 360.10L418.0 360.40" stroke="#2a2a2a" stroke-width="2.3" stroke-linecap="round" stroke-linejoin="round" opacity="1" fill="none" filter="url(#b1)"/>
<path d="M401.0 360.10L412.0 360.20" stroke="#2a2a2a" stroke-width="3.0" stroke-linecap="round" stroke-linejoin="round" opacity="0.6" fill="none" filter="url(#b1)"/>
<path d="M357.0 358.80L370.0 359.00" stroke="#2a2a2a" stroke-width="2.8" stroke-linecap="round" stroke-linejoin="round" opacity="0.5" fill="none" filter="url(#b1)"/>
<path d="M418.0 360.40L430.5 361.30" stroke="#444" stroke-width="1.8" stroke-linecap="round" stroke-linejoin="round" opacity="0.75" fill="none" filter="url(#b1)"/>
</g>
<rect x="349.40" y="350.40" width="87.10" height="17.60" fill="none" stroke="#1e1e1e" stroke-width="1.15"/>
<text x="440.6" y="362.70" font-size="8.75" font-weight="bold" fill="#111">&#946;-catenin</text>
<linearGradient id="g13" x1="0" y1="0" x2="1" y2="0.25"><stop offset="0" stop-color="#b3b3b3"/><stop offset="1" stop-color="#b7b7b7"/></linearGradient>
<rect x="349.40" y="369.00" width="87.10" height="17.80" fill="url(#g13)"/>
<clipPath id="c13"><rect x="349.40" y="369.00" width="87.10" height="17.80"/></clipPath><g clip-path="url(#c13)">
<path d="M355.2 378.90L366.4 378.80" stroke="#505050" stroke-width="1.4" stroke-linecap="round" stroke-linejoin="round" opacity="0.85" fill="none" filter="url(#b1)"/>
<path d="M369.5 378.60L382.2 378.40" stroke="#484848" stroke-width="1.5" stroke-linecap="round" stroke-linejoin="round" opacity="0.9" fill="none" filter="url(#b1)"/>
<path d="M385.6 378.30L398.3 378.00" stroke="#303030" stroke-width="1.9" stroke-linecap="round" stroke-linejoin="round" opacity="0.95" fill="none" filter="url(#b1)"/>
<path d="M401.0 377.90L413.5 377.70" stroke="#282828" stroke-width="2.1" stroke-linecap="round" stroke-linejoin="round" opacity="1" fill="none" filter="url(#b1)"/>
<path d="M416.0 377.80L426.5 378.00" stroke="#282828" stroke-width="2.1" stroke-linecap="round" stroke-linejoin="round" opacity="1" fill="none" filter="url(#b1)"/>
<path d="M356.0 378.90L400.0 378.00L426.0 377.90" stroke="#444" stroke-width="1.0" stroke-linecap="round" stroke-linejoin="round" opacity="0.55" fill="none" filter="url(#b1)"/>
</g>
<rect x="349.40" y="369.00" width="87.10" height="17.80" fill="none" stroke="#1e1e1e" stroke-width="1.15"/>
<text x="440.6" y="379.60" font-size="8.75" font-weight="bold" fill="#111">Dvl-2 (soluble)</text>
<linearGradient id="g14" x1="0" y1="0" x2="1" y2="0.25"><stop offset="0" stop-color="#a2a2a2"/><stop offset="1" stop-color="#aaaaaa"/></linearGradient>
<rect x="349.40" y="387.60" width="87.10" height="19.90" fill="url(#g14)"/>
<clipPath id="c14"><rect x="349.40" y="387.60" width="87.10" height="19.90"/></clipPath><g clip-path="url(#c14)">
<ellipse cx="358" cy="391" rx="7" ry="3" fill="#c4c4c4" opacity=".6" filter="url(#b2)"/><ellipse cx="388" cy="405" rx="8" ry="2.5" fill="#bdbdbd" opacity=".5" filter="url(#b2)"/>
<path d="M356.0 396.50L367.4 397.30" stroke="#1a1a1a" stroke-width="3.0" stroke-linecap="round" stroke-linejoin="round" opacity="1" fill="none" filter="url(#b1)"/>
<path d="M370.4 397.60L383.0 397.90" stroke="#1a1a1a" stroke-width="3.2" stroke-linecap="round" stroke-linejoin="round" opacity="1" fill="none" filter="url(#b1)"/>
<path d="M387.3 398.60L399.5 398.50" stroke="#1a1a1a" stroke-width="3.0" stroke-linecap="round" stroke-linejoin="round" opacity="1" fill="none" filter="url(#b1)"/>
<path d="M404.2 399.20L413.8 398.90" stroke="#1a1a1a" stroke-width="2.6" stroke-linecap="round" stroke-linejoin="round" opacity="1" fill="none" filter="url(#b1)"/>
<path d="M418.0 399.00L429.4 397.40" stroke="#1a1a1a" stroke-width="3.2" stroke-linecap="round" stroke-linejoin="round" opacity="1" fill="none" filter="url(#b1)"/>
<path d="M357.0 396.60L385.0 398.20L402.0 399.00L416.0 399.10L429.0 397.50" stroke="#2a2a2a" stroke-width="1.6" stroke-linecap="round" stroke-linejoin="round" opacity="0.65" fill="none" filter="url(#b1)"/>
</g>
<rect x="349.40" y="387.60" width="87.10" height="19.90" fill="none" stroke="#1e1e1e" stroke-width="1.15"/>
<text x="440.6" y="399.25" font-size="8.75" font-weight="bold" fill="#111">Actin</text>
<linearGradient id="g15" x1="0" y1="0" x2="1" y2="0.25"><stop offset="0" stop-color="#b5b5b5"/><stop offset="1" stop-color="#bababa"/></linearGradient>
<rect x="349.40" y="407.90" width="87.10" height="18.30" fill="url(#g15)"/>
<clipPath id="c15"><rect x="349.40" y="407.90" width="87.10" height="18.30"/></clipPath><g clip-path="url(#c15)">
<path d="M354.3 418.70L370.0 418.40L385.0 418.00L398.0 417.40L410.0 416.90L431.0 416.50" stroke="#1c1c1c" stroke-width="2.3" stroke-linecap="round" stroke-linejoin="round" opacity="1" fill="none" filter="url(#b1)"/>
</g>
<rect x="349.40" y="407.90" width="87.10" height="18.30" fill="none" stroke="#1e1e1e" stroke-width="1.15"/>
<text x="440.6" y="420.05" font-size="8.75" font-weight="bold" fill="#111">Dvl-2 (total)</text>
<linearGradient id="g16" x1="0" y1="0" x2="1" y2="0.25"><stop offset="0" stop-color="#a9a9a9"/><stop offset="1" stop-color="#afafaf"/></linearGradient>
<rect x="349.40" y="427.00" width="87.10" height="16.50" fill="url(#g16)"/>
<clipPath id="c16"><rect x="349.40" y="427.00" width="87.10" height="16.50"/></clipPath><g clip-path="url(#c16)">
<path d="M355.2 434.40L367.8 434.50" stroke="#404040" stroke-width="1.9" stroke-linecap="round" stroke-linejoin="round" opacity="0.9" fill="none" filter="url(#b1)"/>
<path d="M371.0 434.70L383.0 434.90" stroke="#404040" stroke-width="2.0" stroke-linecap="round" stroke-linejoin="round" opacity="0.9" fill="none" filter="url(#b1)"/>
<path d="M386.2 435.20L398.3 435.40" stroke="#606060" stroke-width="1.3" stroke-linecap="round" stroke-linejoin="round" opacity="0.8" fill="none" filter="url(#b1)"/>
<path d="M402.3 435.80L414.3 435.80" stroke="#303030" stroke-width="2.2" stroke-linecap="round" stroke-linejoin="round" opacity="0.95" fill="none" filter="url(#b1)"/>
<path d="M417.8 435.80L429.6 435.90" stroke="#4c4c4c" stroke-width="1.8" stroke-linecap="round" stroke-linejoin="round" opacity="0.85" fill="none" filter="url(#b1)"/>
<path d="M356.0 434.40L400.0 435.50L429.0 435.90" stroke="#555" stroke-width="1.0" stroke-linecap="round" stroke-linejoin="round" opacity="0.5" fill="none" filter="url(#b1)"/>
</g>
<rect x="349.40" y="427.00" width="87.10" height="16.50" fill="none" stroke="#1e1e1e" stroke-width="1.15"/>
<text x="440.6" y="438.25" font-size="8.75" font-weight="bold" fill="#111">Actin</text>
</g>
</svg></body></html>
